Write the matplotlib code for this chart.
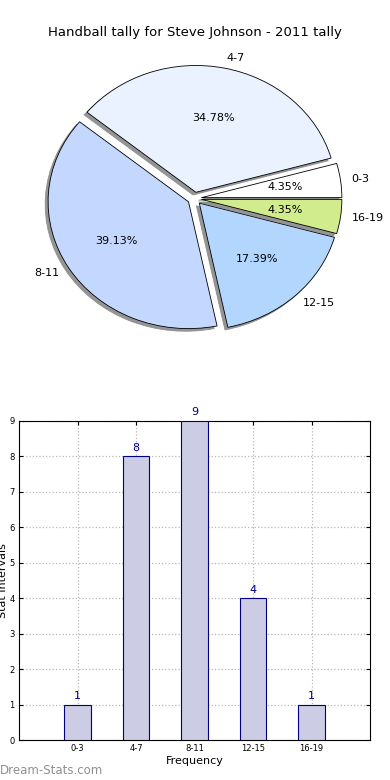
import matplotlib
matplotlib.use("Agg")
import matplotlib.pyplot as plt

categories = ["0-3", "4-7", "8-11", "12-15", "16-19"]
counts = [1, 8, 9, 4, 1]
pie_colors = ["#ffffff", "#eaf2ff", "#c4d8ff", "#b3d6ff", "#d0ec8c"]
title = "Handball tally for Steve Johnson - 2011 tally"

plt.rcParams['font.family'] = ['DejaVu Sans']
fig = plt.figure(figsize=(3.9, 7.8), dpi=100)

# Pie
ax1 = fig.add_axes([19/390, 1-357/780, 351/390, 317/780])
wedges, texts, autotexts = ax1.pie(
    counts, labels=categories, colors=pie_colors, explode=[0.05]*len(counts),
    autopct='%1.2f%%', labeldistance=1.08,
    shadow={'ox': -0.015, 'oy': -0.015, 'facecolor': '#8a8a8a', 'edgecolor': '#8a8a8a',
            'alpha': 0.9},
    startangle=0,
    wedgeprops=dict(edgecolor='black', linewidth=0.6),
    textprops=dict(fontsize=8), frame=False)
ax1.set_aspect('auto')
ax1.set_xlim(-1.25, 1.25)
ax1.set_ylim(-1.25, 1.25)
ax1.set_title(title, fontsize=9.5, pad=3)

# Bars
ax2 = fig.add_axes([19/390, 1-740/780, 351/390, 319/780])
x = list(range(len(categories)))
ax2.bar(x, counts, width=0.45, color="#cccce4", edgecolor="#000080", linewidth=0.8, zorder=3)
for xi, c in zip(x, counts):
    ax2.text(xi, c + 0.1, str(c), ha='center', va='bottom', color='#000080', fontsize=8)
ax2.set_xlim(-1, 5)
ax2.set_ylim(0, 9)
ax2.set_xticks(x)
ax2.set_xticklabels(categories)
ax2.set_yticks(range(0, 10))
ax2.tick_params(labelsize=6, direction='in', length=3, top=True, right=True, pad=3)
ax2.grid(True, linestyle=':', color='#b8b8b8', linewidth=0.9, zorder=0)
ax2.set_xlabel("Frequency", fontsize=8, labelpad=2)
ax2.set_ylabel("Stat Intervals", fontsize=8, labelpad=1)
for s in ax2.spines.values():
    s.set_linewidth(0.8)

fig.text(0.0, 1-771/780, "Dream-Stats.com", fontsize=8.5, color='#909090',
         ha='left', va='center')

fig.savefig("out.png", dpi=100)
